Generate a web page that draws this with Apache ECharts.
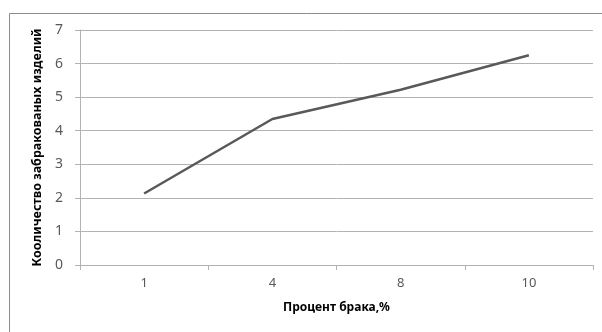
<!DOCTYPE html>
<html><head><meta charset="utf-8">
<script src="https://cdn.jsdelivr.net/npm/echarts@6/dist/echarts.min.js"></script>
<style>html,body{margin:0;padding:0;background:#fff}#c{width:602px;height:332px}</style>
</head><body><div id="c"></div>
<script>
const categories = ['1', '4', '8', '10'];
const values = [2.13, 4.35, 5.22, 6.25];
const yTicks = [0, 1, 2, 3, 4, 5, 6, 7];
const xTitle = 'Процент брака,%';
const yTitle = 'Кооличество забракованых изделий';

const chart = echarts.init(document.getElementById('c'), null, {renderer: 'canvas'});
const font = 'Noto Sans';
chart.setOption({
  animation: false,
  graphic: [{type: 'rect', shape: {x: 9.5, y: 13.5, width: 620, height: 340}, style: {fill: 'none', stroke: '#8c8c8c', lineWidth: 1}, z: -1}],
  grid: {left: 80, right: 9, top: 30, bottom: 67},
  xAxis: {
    type: 'category', data: categories, boundaryGap: true,
    name: xTitle, nameLocation: 'middle', nameGap: 37,
    nameTextStyle: {fontFamily: font, fontWeight: 'bold', fontSize: 12, color: '#000'},
    axisLine: {lineStyle: {color: '#b3b3b3', width: 1}},
    axisTick: {show: true, length: 5, lineStyle: {color: '#b3b3b3'}},
    axisLabel: {fontFamily: font, fontSize: 13, color: '#595959', margin: 12}
  },
  yAxis: {
    type: 'value', min: yTicks[0], max: yTicks[yTicks.length - 1], interval: 1,
    name: yTitle, nameLocation: 'middle', nameGap: 33,
    nameTextStyle: {fontFamily: font, fontWeight: 'bold', fontSize: 12.5, color: '#000'},
    axisLine: {show: true, lineStyle: {color: '#b3b3b3', width: 1}},
    axisTick: {show: true, length: 5, lineStyle: {color: '#b3b3b3'}},
    axisLabel: {fontFamily: font, fontSize: 14, color: '#595959', margin: 17},
    splitLine: {lineStyle: {color: '#b3b3b3', width: 1}}
  },
  series: [{
    type: 'line', data: values, symbol: 'none',
    lineStyle: {color: '#595959', width: 2.5}
  }]
});
</script>
</body></html>
